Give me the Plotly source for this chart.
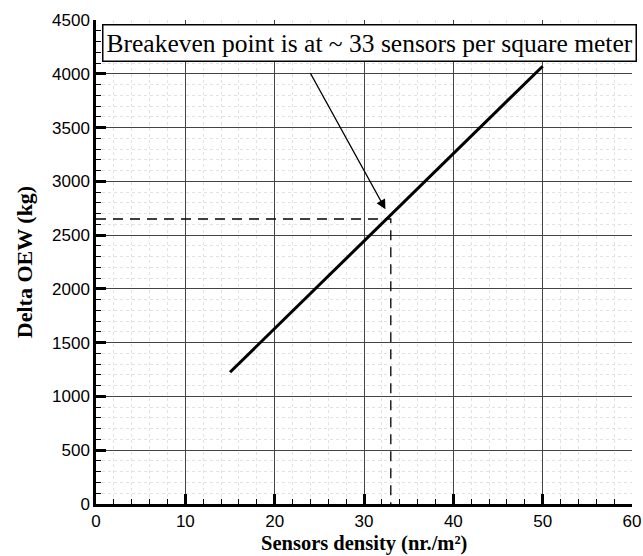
import plotly.graph_objects as go

# data
density = [15, 50]
delta_oew = [1225, 4070]
breakeven_x = 33
breakeven_y = 2650
x_ticks = [0, 10, 20, 30, 40, 50, 60]
y_ticks = [0, 500, 1000, 1500, 2000, 2500, 3000, 3500, 4000, 4500]
note = "Breakeven point is at ~ 33 sensors per square meter"
x_title = "<b>Sensors density (nr./m²)</b>"
y_title = "<b>Delta OEW (kg)</b>"

fig = go.Figure()
fig.add_trace(go.Scatter(x=[0, breakeven_x, breakeven_x], y=[breakeven_y, breakeven_y, 0],
                         mode="lines", line=dict(color="black", width=1.3, dash="10px,7px"),
                         showlegend=False, hoverinfo="skip"))
fig.add_trace(go.Scatter(x=density, y=delta_oew, mode="lines",
                         line=dict(color="black", width=3), showlegend=False))

serif = "Liberation Serif, Times New Roman, serif"
sans = "Liberation Sans, Arial, sans-serif"

fig.add_annotation(x=32.4, y=2740, ax=23.9, ay=4020, xref="x", yref="y", axref="x", ayref="y",
                   showarrow=True, arrowhead=2, arrowsize=1.6, arrowwidth=1.2, arrowcolor="black", text="")
fig.add_annotation(x=0.012, y=4290, xref="paper", yref="y", xanchor="left", yanchor="middle",
                   text=note, showarrow=False, font=dict(family=serif, size=25.5, color="black"),
                   bgcolor="white", bordercolor="black", borderwidth=1.5, borderpad=3)
fig.add_annotation(x=0.5, y=-0.0806, xref="paper", yref="paper", xanchor="center", yanchor="middle",
                   text=x_title, showarrow=False, font=dict(family=serif, size=20.5, color="black"))
fig.add_annotation(x=-0.134, y=0.5, xref="paper", yref="paper", xanchor="center", yanchor="middle",
                   text=y_title, textangle=-90, showarrow=False,
                   font=dict(family=serif, size=22, color="black"))

axis_common = dict(showline=True, linecolor="black", linewidth=2.5, ticks="inside",
                   ticklen=10, tickwidth=3, tickcolor="black", showgrid=True,
                   gridcolor="#444", gridwidth=1, zeroline=False, automargin=False,
                   tickfont=dict(family=sans, size=17, color="black"))
fig.update_xaxes(range=[0, 60], tickvals=x_ticks, **axis_common,
                 minor=dict(dtick=2, ticks="inside", ticklen=5, tickwidth=1, tickcolor="black",
                            showgrid=True, gridcolor="#e2e2e2", griddash="dot", gridwidth=1))
fig.update_yaxes(range=[0, 4500], tickvals=y_ticks, **axis_common,
                 minor=dict(dtick=100, ticks="inside", ticklen=5, tickwidth=1, tickcolor="black",
                            showgrid=True, gridcolor="#e2e2e2", griddash="dot", gridwidth=1))

fig.update_layout(width=643, height=556, margin=dict(l=96, r=11, t=20, b=52),
                  plot_bgcolor="white", paper_bgcolor="white")
fig.write_html("out.html")
